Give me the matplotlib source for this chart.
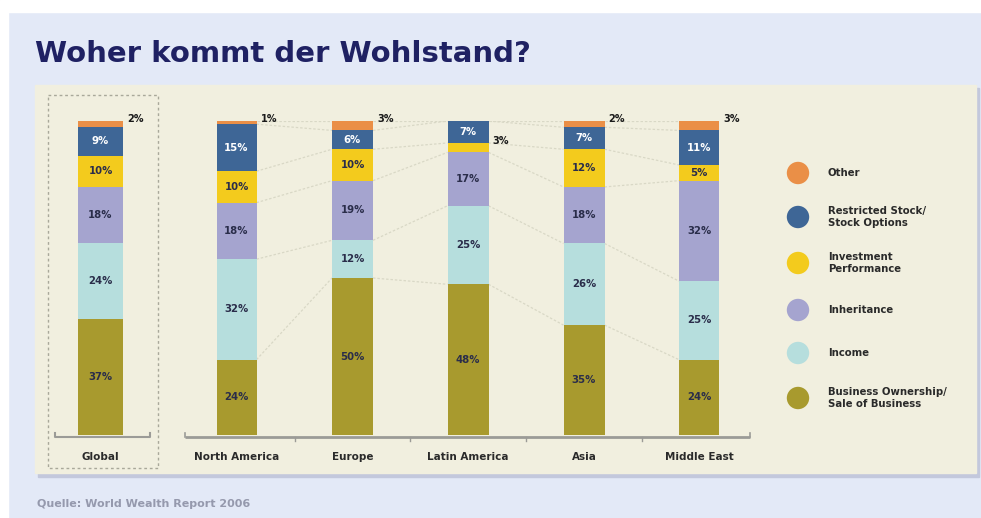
import matplotlib
matplotlib.use("Agg")
import matplotlib.pyplot as plt
import numpy as np
from matplotlib.patches import Rectangle

# ---------------- data ----------------
regions = ["Global", "North America", "Europe", "Latin America", "Asia", "Middle East"]
business = [37, 24, 50, 48, 35, 24]
income = [24, 32, 12, 25, 26, 25]
inheritance = [18, 18, 19, 17, 18, 32]
investment = [10, 10, 10, 3, 12, 5]
restricted = [9, 15, 6, 7, 7, 11]
other = [2, 1, 3, 0, 2, 3]

series_names = ["Business Ownership/\nSale of Business", "Income", "Inheritance",
                "Investment\nPerformance", "Restricted Stock/\nStock Options", "Other"]
series_vals = [business, income, inheritance, investment, restricted, other]
colors = ["#a89a2e", "#b6dedd", "#a5a4cf", "#f3cb1d", "#3e6696", "#ea8f47"]
label_colors = ["#2a2d4a", "#2a2d4a", "#2a2d4a", "#2a2d4a", "#ffffff", "#2a2d4a"]

title = "Woher kommt der Wohlstand?"
source = "Quelle: World Wealth Report 2006"

# ---------------- layout ----------------
W, H = 981, 518
fig = plt.figure(figsize=(W / 100, H / 100), dpi=100)
fig.patch.set_facecolor("#e3e9f7")

# overlay axes in pixel coordinates
ov = fig.add_axes([0, 0, 1, 1])
ov.set_xlim(0, W)
ov.set_ylim(H, 0)
ov.axis("off")

# white top/left strip
ov.add_patch(Rectangle((0, 0), W, 12, color="white", zorder=0))
ov.add_patch(Rectangle((0, 0), 8, H, color="white", zorder=0))
# panel shadow + panel
ov.add_patch(Rectangle((38, 88), 941, 389, color="#c3c8dc", zorder=1))
ov.add_patch(Rectangle((35, 85), 941, 388, color="#f1efdf", zorder=2))
# dashed box around Global
ov.add_patch(Rectangle((48, 95), 110, 373, fill=False, ec="#a9a89a", lw=1.0,
                       ls=(0, (2, 2)), zorder=3))

ov.text(35, 62, title, fontsize=21, fontweight="bold", color="#1f2163",
        ha="left", va="baseline", zorder=5)
ov.text(37, 507, source, fontsize=8, fontweight="bold", color="#9599ad",
        ha="left", va="baseline", zorder=5)

# legend
leg_y = [173, 217, 263, 310, 353, 398]
leg_order = [5, 4, 3, 2, 1, 0]
for y, k in zip(leg_y, leg_order):
    ov.scatter([798], [y], s=260, color=colors[k], edgecolors="none", zorder=5)
    ov.text(828, y, series_names[k], fontsize=7.3, fontweight="bold", color="#2a2a2a",
            ha="left", va="center", linespacing=1.35, zorder=5)

# bars axes: x in pixel units, y in percent
base_px, top_px = 435, 121
x_left, x_right = 40, 760
ax = fig.add_axes([x_left / W, (H - base_px) / H, (x_right - x_left) / W,
                   (base_px - top_px) / H])
ax.set_xlim(x_left, x_right)
ax.set_ylim(0, 100)
ax.patch.set_alpha(0)
ax.axis("off")

xpos = np.array([100.5, 236.5, 352.5, 468, 584, 699])
widths = np.array([45, 40, 41, 41, 41, 40])

vals = np.array(series_vals, dtype=float)  # (series, region)
cum = np.cumsum(vals, axis=0)
bottoms = cum - vals

# connecting lines between regional bars
for i in range(1, len(regions) - 1):
    for k in range(len(series_vals)):
        ax.plot([xpos[i] + widths[i] / 2, xpos[i + 1] - widths[i + 1] / 2],
                [cum[k, i], cum[k, i + 1]], color="#d9d8c6", lw=0.9,
                ls=(0, (2, 1.5)), zorder=1)

for k in range(len(series_vals)):
    ax.bar(xpos, vals[k], width=widths, bottom=bottoms[k], color=colors[k],
           edgecolor="none", zorder=3)
    for i in range(len(regions)):
        v = vals[k, i]
        if v <= 0:
            continue
        if v <= 3:
            ax.text(xpos[i] + widths[i] / 2 + 4, cum[k, i] + 0.5, f"{int(v)}%",
                    fontsize=7, fontweight="bold", color="#1a1a1a",
                    ha="left", va="center", zorder=5)
        else:
            ax.text(xpos[i], bottoms[k, i] + v / 2, f"{int(v)}%", fontsize=7.3,
                    fontweight="bold", color=label_colors[k], ha="center",
                    va="center", zorder=5)

# baselines
ax.plot([185, 750], [-0.6, -0.6], color="#9b9b97", lw=2, zorder=4,
        solid_capstyle="butt", clip_on=False)
for xm in (xpos[1:-1] + xpos[2:]) / 2:
    ax.plot([xm, xm], [-0.6, -2.0], color="#9b9b97", lw=1, zorder=4, clip_on=False)
ax.plot([55, 55, 150, 150], [0.6, -0.6, -0.6, 0.6], color="#9b9b97", lw=1.5,
        zorder=4, clip_on=False)
ax.plot([185, 185], [-0.6, 0.6], color="#9b9b97", lw=1.2, zorder=4, clip_on=False)
ax.plot([750, 750], [-0.6, 0.6], color="#9b9b97", lw=1.2, zorder=4, clip_on=False)

for i, r in enumerate(regions):
    ax.text(xpos[i], -7, r, fontsize=7.5, fontweight="bold", color="#2a2a2a",
            ha="center", va="center", zorder=5, clip_on=False)

fig.savefig("out.png", dpi=100, facecolor=fig.get_facecolor())
